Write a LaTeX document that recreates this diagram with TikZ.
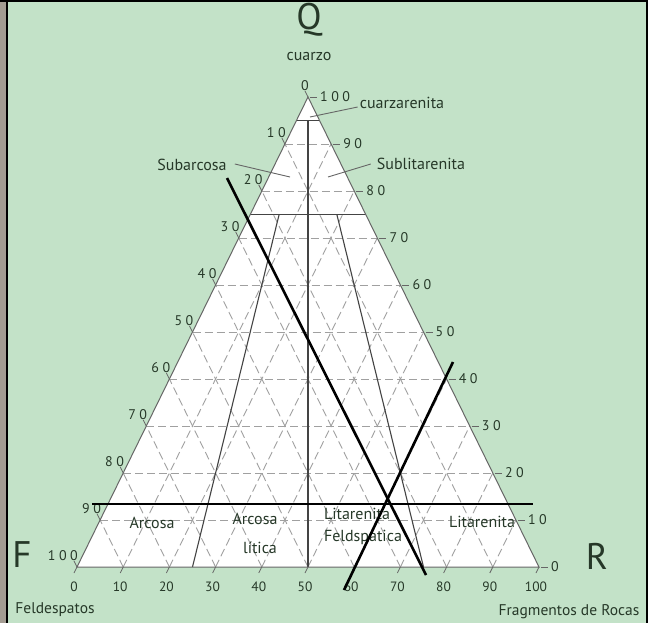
\documentclass[tikz,border=0pt]{standalone}
\usepackage{fontspec}
\setmainfont{PT Sans}
\newfontfamily\tickfont{PT Sans}[LetterSpace=25]
\usetikzlibrary{calc}
\definecolor{bg}{HTML}{C3E2C8}
\definecolor{strip}{HTML}{A39C92}
\definecolor{txt}{HTML}{263828}
\definecolor{gridc}{HTML}{A0A0A0}
\definecolor{edge}{HTML}{666666}
\definecolor{inner}{HTML}{444444}
\begin{document}
\begin{tikzpicture}[x=1pt,y=-1pt,
  lbl/.style={text=txt, font=\fontsize{16}{16}\selectfont, inner sep=0pt},
  small/.style={text=txt, font=\fontsize{16}{16}\selectfont, inner sep=0pt},
  big/.style={text=txt, font=\fontsize{37}{37}\selectfont, inner sep=0pt},
  ticklbl/.style={text=txt, font=\fontsize{14}{14}\selectfont\tickfont, inner sep=0pt},
  axlbl/.style={text=txt, font=\fontsize{13.5}{13.5}\selectfont, inner sep=0pt},
  gridline/.style={gridc, line width=0.9pt, dash pattern=on 8pt off 4pt},
  innerline/.style={inner, line width=1.1pt},
  tickmark/.style={edge, line width=0.8pt},
  leader/.style={edge, line width=0.9pt},
  thick line/.style={black, line width=2.6pt}]
\useasboundingbox (0,0) rectangle (648,623);
% background and frame
\fill[bg] (0,0) rectangle (648,623);
\fill[strip] (0,0) rectangle (6,623);
\draw[black, line width=2pt] (7,0) -- (7,623);
\draw[black, line width=2pt] (0,1) -- (648,1);
\draw[black, line width=2pt] (647,0) -- (647,623);
% triangle
\coordinate (Q) at (308,97);
\coordinate (F) at (77,567);
\coordinate (R) at (539,567);
\fill[white] (Q) -- (F) -- (R) -- cycle;
% dashed grid
\foreach \k in {1,...,9} {
  \draw[gridline] ($(F)!\k/10!(Q)$) -- ($(R)!\k/10!(Q)$);
  \draw[gridline] ($(F)!\k/10!(R)$) -- ($(Q)!\k/10!(R)$);
  \draw[gridline] ($(R)!\k/10!(F)$) -- ($(Q)!\k/10!(F)$);
}
% field boundaries
\coordinate (M) at ($(F)!0.5!(R)$);
\coordinate (B1) at ($(F)!0.25!(R)$);
\coordinate (B3) at ($(F)!0.75!(R)$);
\draw[innerline] ($(F)!0.95!(Q)$) -- ($(R)!0.95!(Q)$);
\draw[innerline] ($(F)!0.75!(Q)$) -- ($(R)!0.75!(Q)$);
\draw[innerline] ($(Q)!0.05!(M)$) -- (M);
\draw[innerline] ($(Q)!0.25!(B1)$) -- (B1);
\draw[innerline] ($(Q)!0.25!(B3)$) -- (B3);
\draw[edge, line width=1pt] (Q) -- (F) -- (R) -- cycle;
% ticks and labels
\foreach \k in {0,...,10} {
  \pgfmathtruncatemacro\lv{10*\k}
  \pgfmathtruncatemacro\rv{100-10*\k}
  \coordinate (l\k) at ($(Q)!\k/10!(F)$);
  \coordinate (r\k) at ($(Q)!\k/10!(R)$);
  \coordinate (b\k) at ($(F)!\k/10!(R)$);
  \draw[tickmark] (l\k) -- ++(-3,-6);
  \node[ticklbl, anchor=east] (lt\k) at ($(l\k)+(1,-11)$) {\lv};
  \draw[tickmark] ($(r\k)+(2,0)$) -- ++(7,0);
  \node[ticklbl, anchor=west] (rt\k) at ($(r\k)+(12,0)$) {\rv};
  \draw[tickmark] (b\k) -- ++(-3,6);
  \node[axlbl] (bt\k) at ($(b\k)+(-3,20)$) {\lv};
}
% titles
\node[big] (nQ) at (309,20) {Q};
\node[small] (ncuarzo) at (309,57) {cuarzo};
\node[big] (nF) at (22,555) {F};
\node[big] (nR) at (597,556) {R};
\node[lbl, font=\fontsize{15.5}{15.5}\selectfont] (nfeld) at (55,610) {Feldespatos};
\node[lbl, font=\fontsize{15.5}{15.5}\selectfont] (nfrag) at (569,612) {Fragmentos de Rocas};
% field names
\node[lbl] (ncz) at (402,103) {cuarzarenita};
\node[lbl] (nsubl) at (421,164) {Sublitarenita};
\node[lbl] (nsuba) at (192,165) {Subarcosa};
\node[lbl] (narc) at (152,523) {Arcosa};
\node[lbl] (narcl1) at (255,519) {Arcosa};
\node[lbl] (narcl2) at (260,548) {lítica};
\node[lbl] (nlf1) at (357,514) {Litarenita};
\node[lbl] (nlf2) at (363,537) {Feldspática};
\node[lbl] (nlit) at (482,522) {Litarenita};
% leaders
\coordinate (c1) at (310,117);
\coordinate (c2) at (328,177);
\coordinate (c3) at (290,177);
\draw[leader] (ncz.west) ++(-2,4) -- (c1);
\draw[leader] (nsubl.west) ++(-6,0) -- (c2);
\draw[leader] (nsuba.east) ++(8,-1) -- (c3);
% hand-drawn thick lines
\coordinate (t1a) at (92,504);
\coordinate (t1b) at (533,504);
\coordinate (t2a) at (227,178);
\coordinate (t2b) at (426,575);
\coordinate (t3a) at (344,590);
\coordinate (t3b) at (453,362);
\draw[thick line] (t1a) -- (t1b);
\draw[thick line] (t2a) -- (t2b);
\draw[thick line] (t3a) -- (t3b);
\end{tikzpicture}
\end{document}
